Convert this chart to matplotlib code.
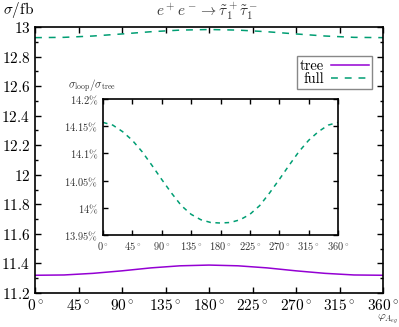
import numpy as np
import matplotlib
matplotlib.use("Agg")
import matplotlib.pyplot as plt
from matplotlib.ticker import MultipleLocator, FixedLocator

plt.rcParams['mathtext.fontset'] = 'cm'
plt.rcParams['font.family'] = 'serif'
plt.rcParams['font.serif'] = ['cmr10', 'DejaVu Serif']
plt.rcParams['axes.formatter.use_mathtext'] = True

# phase angle (degrees)
phi = [0, 30, 60, 90, 120, 150, 180, 210, 240, 270, 300, 330, 360]
# cross sections in fb
sigma_tree = [11.320, 11.322, 11.333, 11.350, 11.370, 11.384, 11.389, 11.384, 11.370, 11.350, 11.333, 11.322, 11.320]
sigma_full = [12.928, 12.930, 12.939, 12.953, 12.968, 12.979, 12.983, 12.979, 12.968, 12.953, 12.939, 12.930, 12.928]

# inset: loop / tree ratio in %
phi_in = [0, 15, 30, 45, 60, 75, 90, 105, 120, 135, 150, 165, 180,
          195, 210, 225, 240, 255, 270, 285, 300, 315, 330, 345, 360]
ratio = [14.157, 14.152, 14.140, 14.124, 14.103, 14.078, 14.052, 14.027, 14.004, 13.988, 13.978, 13.973, 13.972,
         13.973, 13.978, 13.988, 14.004, 14.027, 14.052, 14.078, 14.103, 14.124, 14.140, 14.152, 14.157]

deg_ticks = [0, 45, 90, 135, 180, 225, 270, 315, 360]
deg_labels = [r'$%d^\circ$' % d for d in deg_ticks]

purple = '#9400d3'
green = '#009e73'

fig = plt.figure(figsize=(3.99, 3.27), dpi=100)
ax = fig.add_axes([35 / 399, 1 - 293 / 327, 348 / 399, 266 / 327])

ax.plot(phi, sigma_tree, color=purple, lw=1.1, label='tree')
ax.plot(phi, sigma_full, color=green, lw=1.1, ls=(0, (4.5, 4.5)), label='full')

ax.set_xlim(0, 360)
ax.set_ylim(11.2, 13.0)
ax.set_xticks(deg_ticks)
ax.set_xticklabels(deg_labels)
ax.yaxis.set_major_locator(MultipleLocator(0.2))
ax.yaxis.set_minor_locator(MultipleLocator(0.1))
ax.set_yticklabels([r'$%g$' % round(v, 1) for v in ax.get_yticks()])
ax.tick_params(which='both', direction='in', top=True, right=True, labelsize=11, width=1)
ax.tick_params(which='major', length=4)
ax.tick_params(which='minor', length=2)
for s in ax.spines.values():
    s.set_linewidth(1.2)

leg = ax.legend(loc='upper right', bbox_to_anchor=(372 / 399, 1 - 56 / 327),
                bbox_transform=fig.transFigure, markerfirst=False, fontsize=10.5,
                fancybox=False, edgecolor='#888888', framealpha=1,
                handlelength=2.6, borderpad=0.2, labelspacing=0.0,
                handletextpad=0.5, borderaxespad=0)
leg.get_frame().set_linewidth(1.0)

fig.text(3 / 399, 1 - 10 / 327, r'$\sigma/\mathrm{fb}$', fontsize=11, va='center', ha='left')
fig.text(207 / 399, 1 - 11 / 327, r'$e^+e^- \to \tilde{\tau}_1^+\tilde{\tau}_1^-$',
         fontsize=11, va='center', ha='center', color='#333333')
fig.text(398 / 399, 1 - 319 / 327, r'$\varphi_{A_{eg}}$', fontsize=8.5, va='center', ha='right', color='#333333')

# inset
axi = fig.add_axes([103 / 399, 1 - 235 / 327, 235 / 399, 136 / 327])
axi.plot(phi_in, ratio, color=green, lw=1.1, ls=(0, (3, 3)))
axi.set_xlim(0, 360)
axi.set_ylim(13.95, 14.2)
axi.set_xticks(deg_ticks)
axi.set_xticklabels(deg_labels)
axi.yaxis.set_major_locator(FixedLocator([13.95, 14.0, 14.05, 14.1, 14.15, 14.2]))
axi.set_yticklabels([r'$%g\%%$' % v for v in [13.95, 14.0, 14.05, 14.1, 14.15, 14.2]])
axi.tick_params(direction='in', top=True, right=True, labelsize=7.5, length=3.5, width=1,
                labelcolor='#333333')
for s in axi.spines.values():
    s.set_linewidth(1.2)
fig.text(68 / 399, 1 - 86 / 327, r'$\sigma_{\mathrm{loop}}/\sigma_{\mathrm{tree}}$',
         fontsize=8, va='center', ha='left', color='#333333')

fig.savefig('out.png', dpi=100)
